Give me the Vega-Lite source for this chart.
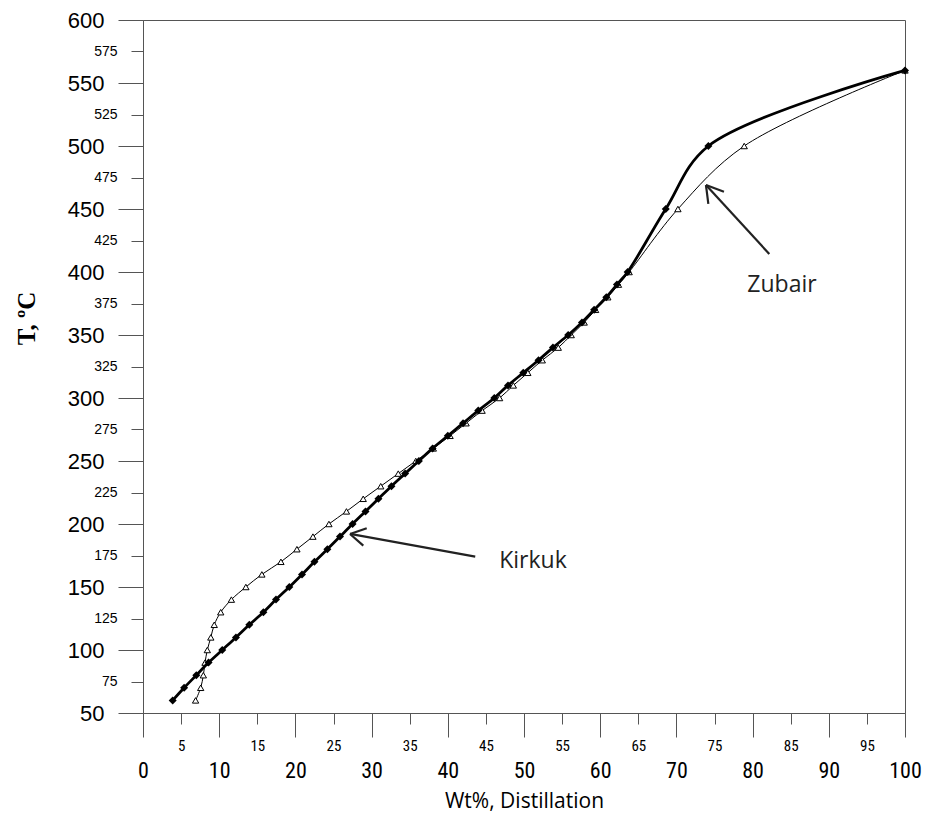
{
  "$schema": "https://vega.github.io/schema/vega-lite/v6.json",
  "width": 762,
  "height": 693,
  "autosize": "none",
  "padding": {"left": 143, "top": 20, "right": 22, "bottom": 101},
  "background": "white",
  "config": {
    "view": {"stroke": "#555", "strokeWidth": 1},
    "axis": {"domainColor": "#555", "tickColor": "#555", "labelColor": "#000", "labelFlush": false, "labelOverlap": false, "labelBound": false, "grid": false, "domainWidth": 1, "tickWidth": 1, "labelFontWeight": "normal"}
  },
  "datasets": {
    "curves": [
      {"crude": "Kirkuk", "wt": 3.9, "T": 60}, {"crude": "Kirkuk", "wt": 5.4, "T": 70}, {"crude": "Kirkuk", "wt": 7.0, "T": 80}, {"crude": "Kirkuk", "wt": 8.6, "T": 90}, {"crude": "Kirkuk", "wt": 10.4, "T": 100}, {"crude": "Kirkuk", "wt": 12.2, "T": 110}, {"crude": "Kirkuk", "wt": 13.95, "T": 120}, {"crude": "Kirkuk", "wt": 15.8, "T": 130}, {"crude": "Kirkuk", "wt": 17.45, "T": 140}, {"crude": "Kirkuk", "wt": 19.2, "T": 150}, {"crude": "Kirkuk", "wt": 20.87, "T": 160}, {"crude": "Kirkuk", "wt": 22.5, "T": 170}, {"crude": "Kirkuk", "wt": 24.2, "T": 180}, {"crude": "Kirkuk", "wt": 25.85, "T": 190}, {"crude": "Kirkuk", "wt": 27.5, "T": 200}, {"crude": "Kirkuk", "wt": 29.2, "T": 210}, {"crude": "Kirkuk", "wt": 30.9, "T": 220}, {"crude": "Kirkuk", "wt": 32.6, "T": 230}, {"crude": "Kirkuk", "wt": 34.4, "T": 240}, {"crude": "Kirkuk", "wt": 36.2, "T": 250}, {"crude": "Kirkuk", "wt": 38.0, "T": 260}, {"crude": "Kirkuk", "wt": 40.0, "T": 270}, {"crude": "Kirkuk", "wt": 42.0, "T": 280}, {"crude": "Kirkuk", "wt": 44.0, "T": 290}, {"crude": "Kirkuk", "wt": 46.1, "T": 300}, {"crude": "Kirkuk", "wt": 47.9, "T": 310}, {"crude": "Kirkuk", "wt": 49.9, "T": 320}, {"crude": "Kirkuk", "wt": 51.9, "T": 330}, {"crude": "Kirkuk", "wt": 53.8, "T": 340}, {"crude": "Kirkuk", "wt": 55.8, "T": 350}, {"crude": "Kirkuk", "wt": 57.6, "T": 360}, {"crude": "Kirkuk", "wt": 59.2, "T": 370}, {"crude": "Kirkuk", "wt": 60.8, "T": 380}, {"crude": "Kirkuk", "wt": 62.2, "T": 390}, {"crude": "Kirkuk", "wt": 63.6, "T": 400}, {"crude": "Kirkuk", "wt": 68.6, "T": 450}, {"crude": "Kirkuk", "wt": 74.2, "T": 500}, {"crude": "Kirkuk", "wt": 100, "T": 560},
      {"crude": "Zubair", "wt": 6.9, "T": 60}, {"crude": "Zubair", "wt": 7.57, "T": 70}, {"crude": "Zubair", "wt": 7.92, "T": 80}, {"crude": "Zubair", "wt": 8.14, "T": 90}, {"crude": "Zubair", "wt": 8.44, "T": 100}, {"crude": "Zubair", "wt": 8.9, "T": 110}, {"crude": "Zubair", "wt": 9.35, "T": 120}, {"crude": "Zubair", "wt": 10.2, "T": 130}, {"crude": "Zubair", "wt": 11.6, "T": 140}, {"crude": "Zubair", "wt": 13.5, "T": 150}, {"crude": "Zubair", "wt": 15.6, "T": 160}, {"crude": "Zubair", "wt": 18.1, "T": 170}, {"crude": "Zubair", "wt": 20.2, "T": 180}, {"crude": "Zubair", "wt": 22.3, "T": 190}, {"crude": "Zubair", "wt": 24.4, "T": 200}, {"crude": "Zubair", "wt": 26.7, "T": 210}, {"crude": "Zubair", "wt": 28.9, "T": 220}, {"crude": "Zubair", "wt": 31.2, "T": 230}, {"crude": "Zubair", "wt": 33.5, "T": 240}, {"crude": "Zubair", "wt": 35.8, "T": 250}, {"crude": "Zubair", "wt": 38.1, "T": 260}, {"crude": "Zubair", "wt": 40.3, "T": 270}, {"crude": "Zubair", "wt": 42.4, "T": 280}, {"crude": "Zubair", "wt": 44.5, "T": 290}, {"crude": "Zubair", "wt": 46.8, "T": 300}, {"crude": "Zubair", "wt": 48.6, "T": 310}, {"crude": "Zubair", "wt": 50.5, "T": 320}, {"crude": "Zubair", "wt": 52.4, "T": 330}, {"crude": "Zubair", "wt": 54.5, "T": 340}, {"crude": "Zubair", "wt": 56.2, "T": 350}, {"crude": "Zubair", "wt": 57.9, "T": 360}, {"crude": "Zubair", "wt": 59.4, "T": 370}, {"crude": "Zubair", "wt": 61.0, "T": 380}, {"crude": "Zubair", "wt": 62.4, "T": 390}, {"crude": "Zubair", "wt": 63.8, "T": 400}, {"crude": "Zubair", "wt": 70.2, "T": 450}, {"crude": "Zubair", "wt": 78.9, "T": 500}, {"crude": "Zubair", "wt": 100, "T": 560}
    ],
    "arrows": [
      {"wt": 43.6, "T": 174.1, "wt2": 27.17, "T2": 192.1},
      {"wt": 27.17, "T": 192.1, "wt2": 29.36, "T2": 196.6},
      {"wt": 27.17, "T": 192.1, "wt2": 28.91, "T2": 182.8},
      {"wt": 82.19, "T": 414.3, "wt2": 73.88, "T2": 469.0},
      {"wt": 73.88, "T": 469.0, "wt2": 76.24, "T2": 463.7},
      {"wt": 73.88, "T": 469.0, "wt2": 74.19, "T2": 454.0}
    ],
    "labels": [
      {"label": "Kirkuk", "wt": 51.18, "T": 170.6},
      {"label": "Zubair", "wt": 83.86, "T": 389.7}
    ]
  },
  "layer": [
    {
      "data": {"name": "curves"},
      "transform": [{"filter": "datum.crude === 'Zubair'"}],
      "mark": {"type": "line", "color": "#000", "strokeWidth": 1, "interpolate": "catmull-rom"},
      "encoding": {
        "x": {"field": "wt", "type": "quantitative", "scale": {"domain": [0, 100], "nice": false, "zero": false},
          "axis": {"orient": "bottom", "values": [0, 10, 20, 30, 40, 50, 60, 70, 80, 90, 100], "tickSize": 24, "labelFontSize": 22, "labelFont": "Liberation Sans Narrow, Roboto Condensed, Liberation Sans", "labelBaseline": "middle", "labelPadding": 33, "title": "Wt%, Distillation", "titleFont": "Open Sans", "titleFontSize": 21, "titleFontWeight": "normal", "titleColor": "#000", "titleBaseline": "middle", "titleY": 88}},
        "y": {"field": "T", "type": "quantitative", "scale": {"domain": [50, 600], "nice": false, "zero": false},
          "axis": {"orient": "left", "values": [50, 100, 150, 200, 250, 300, 350, 400, 450, 500, 550, 600], "tickSize": 25, "labelFontSize": 22, "labelFont": "Liberation Sans", "labelPadding": 14, "title": "T, ºC", "titleFont": "Liberation Serif", "titleFontSize": 25, "titleFontWeight": "bold", "titleColor": "#000", "titleAngle": -90, "titleBaseline": "middle", "titleX": -117, "titleY": 298}}
      }
    },
    {
      "data": {"name": "curves"},
      "transform": [{"filter": "datum.crude === 'Zubair'"}],
      "mark": {"type": "point", "shape": "triangle-up", "filled": true, "fill": "white", "stroke": "#000", "strokeWidth": 1, "size": 40, "opacity": 1},
      "encoding": {
        "x": {"field": "wt", "type": "quantitative",
          "axis": {"orient": "bottom", "values": [5, 15, 25, 35, 45, 55, 65, 75, 85, 95], "tickSize": 11, "labelFontSize": 15, "labelFont": "Liberation Sans Narrow, Roboto Condensed, Liberation Sans", "labelBaseline": "middle", "labelPadding": 21, "domain": false, "title": null}},
        "y": {"field": "T", "type": "quantitative",
          "axis": {"orient": "left", "values": [75, 125, 175, 225, 275, 325, 375, 425, 475, 525, 575], "tickSize": 12, "labelFontSize": 14, "labelFont": "Liberation Sans", "labelPadding": 14, "domain": false, "title": null}}
      }
    },
    {
      "data": {"name": "curves"},
      "transform": [{"filter": "datum.crude === 'Kirkuk'"}],
      "mark": {"type": "line", "color": "#000", "strokeWidth": 2.8, "interpolate": "catmull-rom"},
      "encoding": {
        "x": {"field": "wt", "type": "quantitative", "axis": null},
        "y": {"field": "T", "type": "quantitative", "axis": null}
      }
    },
    {
      "data": {"name": "curves"},
      "transform": [{"filter": "datum.crude === 'Kirkuk'"}],
      "mark": {"type": "point", "shape": "diamond", "filled": true, "color": "#000", "size": 64, "opacity": 1},
      "encoding": {
        "x": {"field": "wt", "type": "quantitative", "axis": null},
        "y": {"field": "T", "type": "quantitative", "axis": null}
      }
    },
    {
      "data": {"name": "arrows"},
      "mark": {"type": "rule", "color": "#222", "strokeWidth": 2.2},
      "encoding": {
        "x": {"field": "wt", "type": "quantitative", "axis": null},
        "y": {"field": "T", "type": "quantitative", "axis": null},
        "x2": {"field": "wt2"},
        "y2": {"field": "T2"}
      }
    },
    {
      "data": {"name": "labels"},
      "mark": {"type": "text", "font": "Open Sans", "fontSize": 23, "color": "#222", "align": "center", "baseline": "middle"},
      "encoding": {
        "x": {"field": "wt", "type": "quantitative", "axis": null},
        "y": {"field": "T", "type": "quantitative", "axis": null},
        "text": {"field": "label"}
      }
    }
  ],
  "resolve": {"axis": {"x": "independent", "y": "independent"}}
}
